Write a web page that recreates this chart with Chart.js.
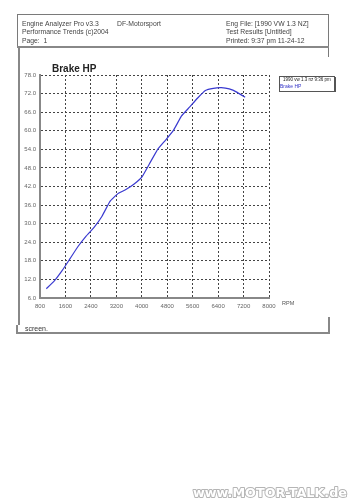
<!DOCTYPE html>
<html><head><meta charset="utf-8">
<script src="https://cdn.jsdelivr.net/npm/chart.js@4.4.1/dist/chart.umd.min.js"></script>
<style>html,body{margin:0;padding:0;background:#fff}#wrap{width:353px;height:500px;position:relative}</style>
</head><body><div id="wrap"><canvas id="c" width="353" height="500"></canvas></div>
<script>
const rpm = [1000,1250,1500,1750,2000,2250,2500,2750,3000,3250,3500,3750,4000,4250,4500,4750,5000,5250,5500,5750,6000,6250,6500,6750,7000,7250];
const brakeHp = [9.0,11.5,14.9,18.8,22.7,26.0,28.8,32.4,37.2,39.7,41.0,42.7,45.0,49.5,54.0,57.0,60.2,64.8,67.6,70.5,73.0,73.7,73.9,73.5,72.4,70.8];
const yTicks = [6,12,18,24,30,36,42,48,54,60,66,72,78];
const xTicks = [800,1600,2400,3200,4000,4800,5600,6400,7200,8000];
const seriesName = 'Brake HP';
const legendTitle = '1990 vw 1.3 nz 9:36 pm';
const headerLeft = ['Engine Analyzer Pro v3.3','Performance Trends (c)2004','Page:  1'];
const headerMid = 'DF-Motorsport';
const headerRight = ['Eng File: [1990 VW 1.3 NZ]','Test Results [Untitled]','Printed: 9:37 pm 11-24-12'];

const deco = {
  id:'deco',
  beforeDraw(chart){
    const ctx = chart.ctx;
    ctx.save();
    ctx.fillStyle='#fff';ctx.fillRect(0,0,353,500);
    ctx.strokeStyle='#7a7a7a';ctx.lineWidth=1;
    ctx.beginPath();
    ctx.moveTo(17,14.5);ctx.lineTo(329,14.5);
    ctx.moveTo(17.5,14);ctx.lineTo(17.5,47);
    ctx.moveTo(328.5,14);ctx.lineTo(328.5,57);
    ctx.stroke();
    ctx.lineWidth=2;ctx.strokeStyle='#888';
    ctx.beginPath();
    ctx.moveTo(17,47);ctx.lineTo(329,47);
    ctx.moveTo(19,47);ctx.lineTo(19,325);
    ctx.moveTo(16,333);ctx.lineTo(330,333);
    ctx.moveTo(17,325);ctx.lineTo(17,334);
    ctx.moveTo(329,317);ctx.lineTo(329,334);
    ctx.stroke();
    ctx.fillStyle='#444';ctx.font='6.8px "Liberation Sans", Arial, sans-serif';ctx.textBaseline='alphabetic';ctx.textAlign='left';
    headerLeft.forEach((t,i)=>ctx.fillText(t,22,26+i*8.3));
    ctx.fillText(headerMid,117,26);
    headerRight.forEach((t,i)=>ctx.fillText(t,226,26+i*8.3));
    ctx.fillStyle='#222';ctx.font='bold 10px "Liberation Sans", Arial, sans-serif';
    ctx.fillText(seriesName,52,72);
    ctx.fillStyle='#555';ctx.font='5.5px "Liberation Sans", Arial, sans-serif';
    ctx.fillText('RPM',282,305);
    ctx.fillStyle='#333';ctx.font='7px "Liberation Sans", Arial, sans-serif';
    ctx.fillText('screen.',25,331);
    ctx.restore();
  },
  afterDraw(chart){
    const ctx = chart.ctx;
    ctx.save();
    ctx.strokeStyle='#555';ctx.lineWidth=1;
    ctx.strokeRect(279.5,76.5,55,15);
    ctx.lineWidth=2;ctx.beginPath();ctx.moveTo(335,77);ctx.lineTo(335,92);ctx.stroke();
    ctx.fillStyle='#222';ctx.font='4.5px "Liberation Sans", Arial, sans-serif';ctx.textAlign='left';
    ctx.fillText(legendTitle,283,81);
    ctx.fillStyle='#3434c8';ctx.font='5px "Liberation Sans", Arial, sans-serif';
    ctx.fillText(seriesName,280,88);
    ctx.font='bold 13px "DejaVu Sans", sans-serif';ctx.textAlign='right';ctx.textBaseline='alphabetic';
    ctx.lineWidth=2;ctx.strokeStyle='#b5b5b5';ctx.lineJoin='round';
    ctx.strokeText('www.MOTOR-TALK.de',347,497,154);
    ctx.fillStyle='#fff';
    ctx.fillText('www.MOTOR-TALK.de',347,497,154);
    ctx.restore();
  }
};

new Chart(document.getElementById('c'),{
  type:'line',
  data:{datasets:[{label:seriesName,data:rpm.map((r,i)=>({x:r,y:brakeHp[i]})),borderColor:'#3a3ad0',borderWidth:1.2,pointRadius:0,tension:0.1,fill:false}]},
  options:{
    responsive:false,animation:false,devicePixelRatio:1,
    layout:{padding:{left:0,right:84,top:75,bottom:182}},
    plugins:{legend:{display:false},title:{display:false},tooltip:{enabled:false}},
    scales:{
      x:{type:'linear',min:800,max:8000,
        afterBuildTicks:(s)=>{s.ticks=xTicks.map(v=>({value:v}));},
        afterFit:(s)=>{s.height=20;},
        ticks:{font:{size:6,family:'"Liberation Sans", Arial, sans-serif'},color:'#666',padding:5,maxRotation:0,autoSkip:false,callback:v=>String(v)},
        grid:{color:'#444',lineWidth:1,drawTicks:false},
        border:{display:true,color:'#888',width:2,dash:[2,2]}
      },
      y:{type:'linear',min:6,max:78,
        afterBuildTicks:(s)=>{s.ticks=yTicks.map(v=>({value:v}));},
        afterFit:(s)=>{s.width=40;},
        ticks:{font:{size:6,family:'"Liberation Sans", Arial, sans-serif'},color:'#666',padding:4,autoSkip:false,callback:v=>Number(v).toFixed(1)},
        grid:{color:'#444',lineWidth:1,drawTicks:false},
        border:{display:true,color:'#888',width:2,dash:[2,2]}
      }
    }
  },
  plugins:[deco]
});
</script></body></html>
